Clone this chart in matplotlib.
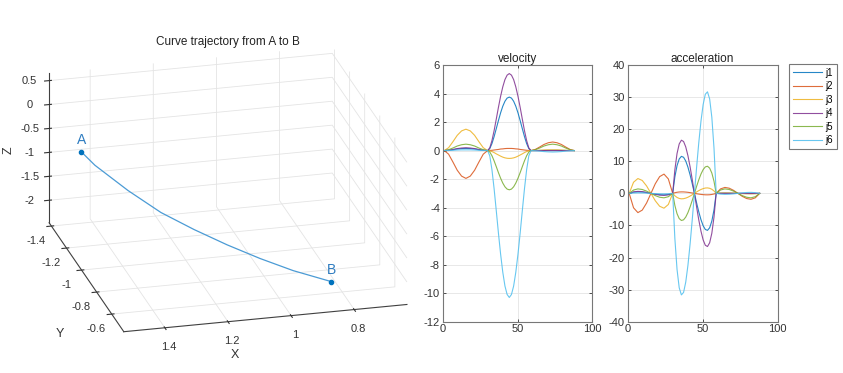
import matplotlib
matplotlib.use("Agg")
import matplotlib.pyplot as plt

plt.rcParams['font.family'] = ['Liberation Sans', 'DejaVu Sans']
plt.rcParams['axes.unicode_minus'] = False
plt.rcParams['grid.color'] = '#e4e4e4'
plt.rcParams['grid.linewidth'] = 0.6

traj_x = [1.452, 1.419, 1.339, 1.260, 1.180, 1.100, 1.021, 0.941, 0.849]
traj_y = [-1.331, -1.287, -1.182, -1.077, -0.973, -0.868, -0.764, -0.659, -0.539]
traj_z = [-0.808, -1.011, -1.349, -1.616, -1.783, -1.913, -2.008, -2.071, -2.083]

# sample index of the joint profiles (middle segment sampled finer)
t = [1, 3.9, 6.8, 9.7, 12.6, 15.5, 18.4, 21.3, 24.2, 27.1,
     30, 31.45, 32.9, 34.35, 35.8, 37.25, 38.7, 40.15, 41.6, 43.05,
     44.5, 45.95, 47.4, 48.85, 50.3, 51.75, 53.2, 54.65, 56.1, 57.55,
     59, 61.9, 64.8, 67.7, 70.6, 73.5, 76.4, 79.3, 82.2, 85.1, 88]

joint_names = ['j1', 'j2', 'j3', 'j4', 'j5', 'j6']

vel_j1 = [0, .02, .06, .11, .14, .15, .14, .11, .06, .02,
          0, .14, .49, .98, 1.54, 2.11, 2.65, 3.11, 3.46, 3.68,
          3.75, 3.68, 3.46, 3.11, 2.65, 2.11, 1.54, .98, .49, .14,
          0, 0, .01, .01, .02, .02, .02, .01, .01, 0, 0]
vel_j2 = [0, -.25, -.80, -1.38, -1.79, -1.95, -1.79, -1.38, -.80, -.25,
          0, .01, .02, .04, .06, .08, .11, .12, .14, .15,
          .15, .15, .14, .12, .11, .08, .06, .04, .02, .01,
          0, .08, .25, .43, .55, .60, .55, .43, .25, .08, 0]
vel_j3 = [0, .20, .62, 1.07, 1.38, 1.50, 1.38, 1.07, .62, .20,
          0, -.02, -.07, -.14, -.23, -.31, -.39, -.46, -.51, -.54,
          -.55, -.54, -.51, -.46, -.39, -.31, -.23, -.14, -.07, -.02,
          0, .01, .02, .04, .05, .05, .05, .04, .02, .01, 0]
vel_j4 = [0, .03, .08, .14, .18, .20, .18, .14, .08, .03,
          0, .19, .70, 1.40, 2.21, 3.04, 3.81, 4.47, 4.98, 5.29,
          5.40, 5.29, 4.98, 4.47, 3.81, 3.04, 2.21, 1.40, .70, .19,
          0, 0, 0, 0, 0, 0, 0, 0, 0, 0, 0]
vel_j5 = [0, .06, .18, .32, .41, .45, .41, .32, .18, .06,
          0, -.10, -.36, -.72, -1.13, -1.55, -1.94, -2.28, -2.54, -2.70,
          -2.75, -2.70, -2.54, -2.28, -1.94, -1.55, -1.13, -.72, -.36, -.10,
          0, .06, .18, .32, .41, .45, .41, .32, .18, .06, 0]
vel_j6 = [0, .01, .02, .04, .05, .05, .05, .04, .02, .01,
          0, -.37, -1.34, -2.68, -4.22, -5.80, -7.27, -8.53, -9.50, -10.09,
          -10.3, -10.09, -9.50, -8.53, -7.27, -5.80, -4.22, -2.68, -1.34, -.37,
          0, -.01, -.04, -.07, -.09, -.10, -.09, -.07, -.04, -.01, 0]

acc_j1 = [0, .35, .46, .40, .23, 0, -.23, -.40, -.46, -.35,
          0, 5.13, 8.64, 10.72, 11.53, 11.25, 10.08, 8.19, 5.76, 2.97,
          0, -2.97, -5.76, -8.19, -10.08, -11.25, -11.53, -10.72, -8.64, -5.13,
          0, .05, .06, .05, .03, 0, -.03, -.05, -.06, -.05, 0]
acc_j2 = [0, -4.5, -6.0, -5.22, -3.0, 0, 3.0, 5.22, 6.0, 4.5,
          0, .20, .34, .43, .46, .45, .40, .33, .23, .12,
          0, -.12, -.23, -.33, -.40, -.45, -.46, -.43, -.34, -.20,
          0, 1.39, 1.85, 1.61, .93, 0, -.93, -1.61, -1.85, -1.39, 0]
acc_j3 = [0, 3.47, 4.62, 4.02, 2.31, 0, -2.31, -4.02, -4.62, -3.47,
          0, -.75, -1.27, -1.58, -1.70, -1.66, -1.48, -1.21, -.85, -.44,
          0, .44, .85, 1.21, 1.48, 1.66, 1.70, 1.58, 1.27, .75,
          0, .11, .15, .13, .08, 0, -.08, -.13, -.15, -.11, 0]
acc_j4 = [0, .47, .62, .54, .31, 0, -.31, -.54, -.62, -.47,
          0, 7.37, 12.42, 15.40, 16.57, 16.17, 14.49, 11.77, 8.28, 4.27,
          0, -4.27, -8.28, -11.77, -14.49, -16.17, -16.57, -15.40, -12.42, -7.37,
          0, 0, 0, 0, 0, 0, 0, 0, 0, 0, 0]
acc_j5 = [0, 1.04, 1.39, 1.21, .70, 0, -.70, -1.21, -1.39, -1.04,
          0, -3.76, -6.34, -7.86, -8.45, -8.25, -7.39, -6.01, -4.23, -2.18,
          0, 2.18, 4.23, 6.01, 7.39, 8.25, 8.45, 7.86, 6.34, 3.76,
          0, 1.04, 1.39, 1.21, .70, 0, -.70, -1.21, -1.39, -1.04, 0]
acc_j6 = [0, .11, .15, .13, .08, 0, -.08, -.13, -.15, -.11,
          0, -14.07, -23.71, -29.42, -31.64, -30.88, -27.67, -22.48, -15.82, -8.15,
          0, 8.15, 15.82, 22.48, 27.67, 30.88, 31.64, 29.42, 23.71, 14.07,
          0, -.23, -.31, -.27, -.16, 0, .16, .27, .31, .23, 0]

vel = [vel_j1, vel_j2, vel_j3, vel_j4, vel_j5, vel_j6]
acc = [acc_j1, acc_j2, acc_j3, acc_j4, acc_j5, acc_j6]
colors = ['#0072BD', '#D95319', '#EDB120', '#7E2F8E', '#77AC30', '#4DBEEE']

fig = plt.figure(figsize=(8.43, 3.73), dpi=100)

# ---- 3d trajectory ----
ax3 = fig.add_axes([0.0, 0.021, 0.53, 0.92], projection='3d', proj_type='ortho')
ax3.plot(traj_x, traj_y, traj_z, color='#4b9bd5', lw=0.9)
ax3.scatter([traj_x[0], traj_x[-1]], [traj_y[0], traj_y[-1]], [traj_z[0], traj_z[-1]],
            color='#0072BD', s=9, depthshade=False)
ax3.text(traj_x[0], traj_y[0], traj_z[0] + 0.1, 'A', color='#2e7cc0', fontsize=10,
         ha='center', va='bottom')
ax3.text(traj_x[-1], traj_y[-1], traj_z[-1] + 0.1, 'B', color='#2e7cc0', fontsize=10,
         ha='center', va='bottom')
ax3.set_xlim(0.633, 1.53)
ax3.set_ylim(-1.43, -0.44)
ax3.set_zlim(-2.47, 0.65)
ax3.set_xticks([0.8, 1, 1.2, 1.4])
ax3.set_yticks([-1.4, -1.2, -1, -0.8, -0.6])
ax3.set_zticks([-2, -1.5, -1, -0.5, 0, 0.5])
ax3.set_xticklabels(['0.8', '1', '1.2', '1.4'])
ax3.set_yticklabels(['-1.4', '-1.2', '-1', '-0.8', '-0.6'])
ax3.set_zticklabels(['-2', '-1.5', '-1', '-0.5', '0', '0.5'])
ax3.set_box_aspect((294, 302, 162), zoom=1.27)
ax3.view_init(elev=22, azim=75.6)
for axis in (ax3.xaxis, ax3.yaxis, ax3.zaxis):
    axis.set_pane_color((1, 1, 1, 1))
    axis.pane.set_edgecolor('none')
    axis.line.set_color('#404040')
    axis.line.set_linewidth(0.8)
    axis.set_tick_params(labelsize=8, colors='#333333', pad=-1)
    axis.label.set_visible(False)
    axis.offsetText.set_visible(False)

# axis names and title placed in figure space, like the matlab layout
fig.text(235 / 843, 1 - 355 / 373, 'X', fontsize=9, ha='center', va='center', color='#333333')
fig.text(60 / 843, 1 - 334 / 373, 'Y', fontsize=9, ha='center', va='center', color='#333333')
fig.text(9 / 843, 1 - 150 / 373, 'Z', fontsize=9, ha='center', va='center', rotation=90,
         color='#333333')
fig.text(0.2705, 0.887, 'Curve trajectory from A to B', fontsize=8.5, ha='center',
         va='center', color='#222222')

# ---- velocity / acceleration ----
axv = fig.add_axes([0.5252, 0.1375, 0.1774, 0.6882])
axa = fig.add_axes([0.7446, 0.1375, 0.1779, 0.6882])

for name, v, a, c in zip(joint_names, vel, acc, colors):
    axv.plot(t, v, color=c, lw=0.8, alpha=0.85)
    axa.plot(t, a, color=c, lw=0.8, alpha=0.85, label=name)

axv.set_ylim(-12, 6)
axv.set_yticks(range(-12, 7, 2))
axa.set_ylim(-40, 40)
axa.set_yticks(range(-40, 41, 10))
axv.set_title('velocity', fontsize=8.5, pad=2, color='#222222')
axa.set_title('acceleration', fontsize=8.5, pad=2, color='#222222')

for ax in (axv, axa):
    ax.set_xlim(0, 100)
    ax.set_xticks([0, 50, 100])
    ax.grid(True)
    ax.tick_params(direction='in', top=True, right=True, labelsize=8, length=2.5,
                   width=0.6, colors='#333333', pad=2)
    for sp in ax.spines.values():
        sp.set_color('#777777')
        sp.set_linewidth(0.8)

leg = axa.legend(loc='upper left', bbox_to_anchor=(0.9363, 0.8284),
                 bbox_transform=fig.transFigure, fontsize=7, frameon=True,
                 fancybox=False, handlelength=3.0, handletextpad=0.3,
                 labelspacing=0.35, borderpad=0.4, borderaxespad=0)
leg.get_frame().set_edgecolor('#555555')
leg.get_frame().set_linewidth(0.8)

fig.savefig('out.png', dpi=100)
